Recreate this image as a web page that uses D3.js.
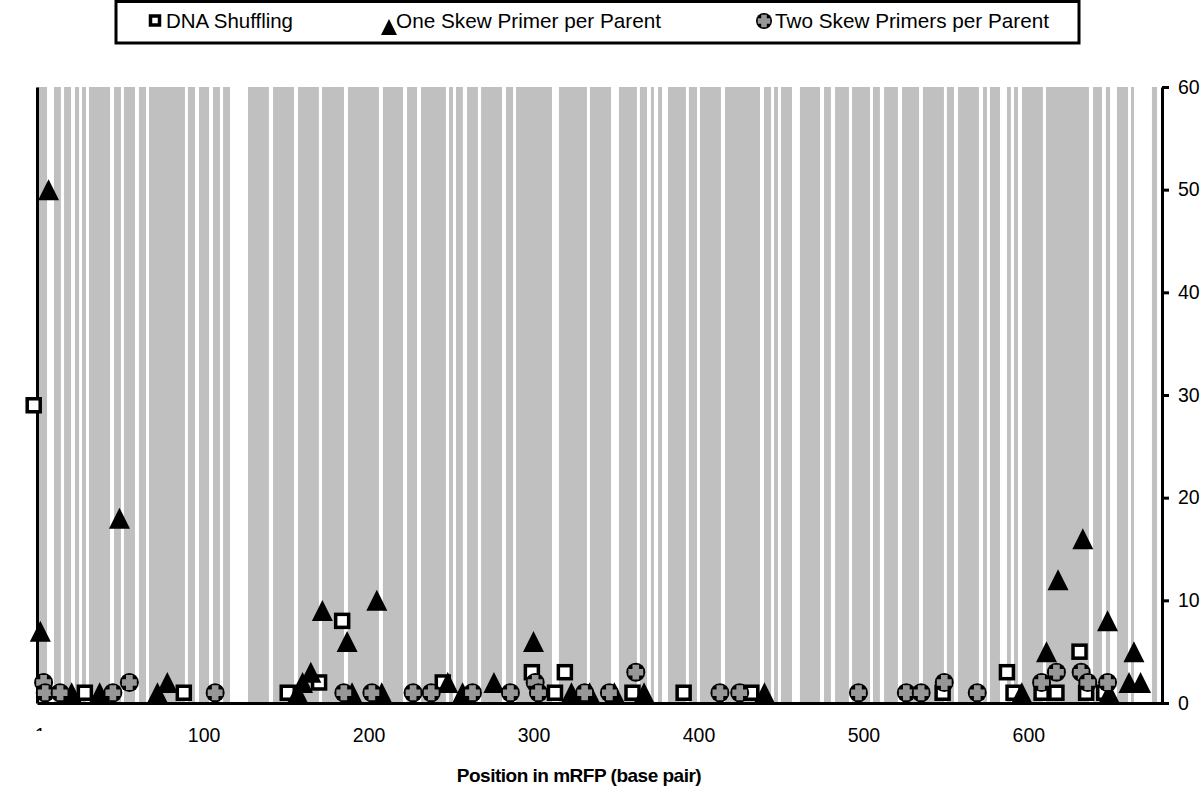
<!DOCTYPE html>
<html>
<head>
<meta charset="utf-8">
<script src="https://cdn.jsdelivr.net/npm/d3@7"></script>
<style>
body { margin: 0; background: #fff; }
svg { display: block; font-family: "Liberation Sans", Arial, sans-serif; }
</style>
</head>
<body>
<div id="chart"></div>
<script>
/* white stripes across the grey background (base pair ranges) */
var gapStart = [5.1, 13.5, 19.6, 24.5, 28.7, 43.3, 49.9, 58.4, 65.1, 88.7, 94.8, 103.3, 109.9, 116, 139.6, 154.8, 169.9, 185.1, 206.3, 220.9,
    229.4, 246.9, 251.2, 257.2, 266.3, 280.9, 287.6, 311.2, 332.4, 347, 362.7, 368.8, 373, 377.9, 392.4, 399.1, 413.6, 437.3, 444, 448.2,
    456.7, 473.7, 480.3, 491.2, 504, 510, 520.9, 533.7, 548.8, 554.9, 570, 574.9, 582.8, 589.4, 593.7, 608.8, 636.7, 644.6, 649.5, 660.4,
    664, 678];
var gapEnd = [9.3, 15.4, 22, 26.3, 30.5, 45.7, 51.7, 60.8, 66.9, 90.5, 97.2, 105.7, 111.8, 126.9, 142.1, 157.2, 171.8, 187.5, 208.7, 223.3,
    231.8, 248.8, 253, 259.7, 268.2, 283.3, 289.4, 315.4, 334.2, 351.8, 364.5, 371.2, 375.5, 381.5, 394.2, 400.9, 416.1, 439.7, 445.8, 450,
    461.5, 476.1, 482.8, 493.1, 505.8, 512.5, 523.4, 536.1, 550.6, 557.3, 572.5, 576.7, 587, 591.3, 596.1, 610.7, 639.2, 647, 653.7, 662.2,
    674.9, 681];

/* DNA Shuffling */
var shufflingPos = [-3, 28, 88, 151, 170, 184, 245, 299, 313, 319, 360, 391, 432, 548, 587, 591, 608, 617, 631, 635, 646];
var shufflingCount = [29, 1, 1, 1, 2, 8, 2, 3, 1, 3, 1, 1, 1, 1, 3, 1, 1, 1, 5, 1, 1];

/* One Skew Primer per Parent */
var onePrimerPos = [1, 6, 20, 37, 49, 72, 78, 157, 160, 165, 172, 187, 190, 205, 208, 248, 257, 276, 300, 323, 334, 349, 367, 440,
    596, 611, 618, 633, 648, 649, 661, 664, 668];
var onePrimerCount = [7, 50, 1, 1, 18, 1, 2, 1, 2, 3, 9, 6, 1, 10, 1, 2, 1, 2, 6, 1, 1, 1, 1, 1,
    1, 5, 12, 16, 8, 1, 2, 5, 2];

/* Two Skew Primers per Parent */
var twoPrimerPos = [3, 4, 13, 45, 55, 107, 185, 202, 227, 238, 263, 286, 301, 303, 331, 346, 362, 413, 425, 497, 526, 535, 549, 569,
    608, 617, 632, 636, 648];
var twoPrimerCount = [2, 1, 1, 1, 2, 1, 1, 1, 1, 1, 1, 1, 2, 1, 1, 1, 3, 1, 1, 1, 1, 1, 2, 1,
    2, 3, 3, 2, 2];

var seriesNames = ["DNA Shuffling", "One Skew Primer per Parent", "Two Skew Primers per Parent"];
var xTicks = [100, 200, 300, 400, 500, 600];
var yTicks = [0, 10, 20, 30, 40, 50, 60];

var width = 1200;
var height = 788;
var grey = "#c0c0c0";
var crossGrey = "#979797";

var xScale = d3.scaleLinear().domain([-1, 681]).range([37, 1162]);
var yScale = d3.scaleLinear().domain([0, 60]).range([703, 87]);

var svg = d3.select("#chart").append("svg")
    .attr("width", width)
    .attr("height", height);

/* Background stripes */
var stripes = svg.append("g").attr("class", "stripes");
stripes.append("rect")
    .attr("x", xScale(-1))
    .attr("y", yScale(60))
    .attr("width", xScale(681) - xScale(-1))
    .attr("height", yScale(0) - yScale(60))
    .attr("fill", grey);
stripes.selectAll(".gap")
    .data(gapStart).enter()
    .append("rect")
    .attr("class", "gap")
    .attr("x", d => xScale(d))
    .attr("y", yScale(60))
    .attr("width", (d, i) => xScale(gapEnd[i]) - xScale(d))
    .attr("height", yScale(0) - yScale(60))
    .attr("fill", "#fff");

/* Axes */
var xAxis = d3.axisBottom(xScale).tickValues(xTicks).tickSize(0).tickSizeOuter(0).tickPadding(25);
var yAxis = d3.axisRight(yScale).tickValues(yTicks).tickSize(7).tickSizeOuter(0).tickPadding(9);
var leftAxis = d3.axisLeft(yScale).tickValues([]).tickSizeOuter(0);

var gx = svg.append("g")
    .attr("class", "x axis")
    .attr("transform", `translate(0, ${yScale(0)})`)
    .call(xAxis);
gx.selectAll("text").attr("font-size", "19.5px").attr("font-family", null).attr("fill", "#000");

/* first label sits half hidden under the plot edge */
svg.append("clipPath").attr("id", "firstLabelClip")
    .append("rect").attr("x", 0).attr("y", 0).attr("width", 80).attr("height", 731);
svg.append("text")
    .attr("x", xScale(-1))
    .attr("y", 742)
    .attr("text-anchor", "middle")
    .attr("font-size", "19.5px")
    .attr("clip-path", "url(#firstLabelClip)")
    .text("-1");

var gy = svg.append("g")
    .attr("class", "y axis")
    .attr("transform", `translate(${xScale(681)}, 0)`)
    .call(yAxis);
gy.selectAll("text").attr("font-size", "19.5px").attr("font-family", null).attr("fill", "#000");

svg.append("g")
    .attr("class", "left axis")
    .attr("transform", `translate(${xScale(-1)}, 0)`)
    .call(leftAxis);

svg.selectAll(".axis path, .axis line")
    .attr("stroke", "#000")
    .attr("stroke-width", 3);

svg.append("text")
    .attr("x", 579)
    .attr("y", 782)
    .attr("text-anchor", "middle")
    .attr("font-size", "19px")
    .attr("font-weight", "bold")
    .attr("letter-spacing", "-0.5px")
    .text("Position in mRFP (base pair)");

/* Marker shapes */
function drawSquare(g, s) {
    g.append("rect")
        .attr("x", -s / 2).attr("y", -s / 2)
        .attr("width", s).attr("height", s)
        .attr("fill", "#fff")
        .attr("stroke", "#000")
        .attr("stroke-width", 3.5);
}
function drawTriangle(g, s) {
    var h = s / 2;
    g.append("path")
        .attr("d", `M0,${-h}L${h},${h}L${-h},${h}Z`)
        .attr("fill", "#000");
}
function drawCross(g, r) {
    var a = r * 0.35, l = r * 0.78;
    g.append("circle").attr("r", r).attr("fill", "#000");
    g.append("path")
        .attr("d", `M${-a},${-l}H${a}V${-a}H${l}V${a}H${a}V${l}H${-a}V${a}H${-l}V${-a}H${-a}Z`)
        .attr("fill", crossGrey);
}

var markers = svg.append("g").attr("class", "markers");

markers.selectAll(".shuffling")
    .data(shufflingPos).enter()
    .append("g")
    .attr("class", "shuffling")
    .attr("transform", (d, i) => `translate(${xScale(d)}, ${yScale(shufflingCount[i])})`)
    .each(function() { drawSquare(d3.select(this), 13); });

markers.selectAll(".onePrimer")
    .data(onePrimerPos).enter()
    .append("g")
    .attr("class", "onePrimer")
    .attr("transform", (d, i) => `translate(${xScale(d)}, ${yScale(onePrimerCount[i])})`)
    .each(function() { drawTriangle(d3.select(this), 21); });

markers.selectAll(".twoPrimer")
    .data(twoPrimerPos).enter()
    .append("g")
    .attr("class", "twoPrimer")
    .attr("transform", (d, i) => `translate(${xScale(d)}, ${yScale(twoPrimerCount[i])})`)
    .each(function() { drawCross(d3.select(this), 9.5); });

/* Legend */
var legend = svg.append("g").attr("class", "legend");
legend.append("rect")
    .attr("x", 116).attr("y", 1.5)
    .attr("width", 963).attr("height", 41.5)
    .attr("fill", "#fff")
    .attr("stroke", "#000")
    .attr("stroke-width", 3);

var legendX = [155, 389, 764];
var legendY = [20.5, 27, 21];
var legendTextX = [166, 396, 775];
var shapes = [
    g => drawSquare(g, 9),
    g => drawTriangle(g, 16),
    g => drawCross(g, 8)
];
seriesNames.forEach(function(name, i) {
    var g = legend.append("g").attr("transform", `translate(${legendX[i]}, ${legendY[i]})`);
    shapes[i](g);
    legend.append("text")
        .attr("x", legendTextX[i])
        .attr("y", 28)
        .attr("font-size", "21px")
        .attr("textLength", i == 0 ? 127 : (i == 1 ? 265 : 274))
        .attr("lengthAdjust", "spacingAndGlyphs")
        .text(name);
});
</script>
</body>
</html>
